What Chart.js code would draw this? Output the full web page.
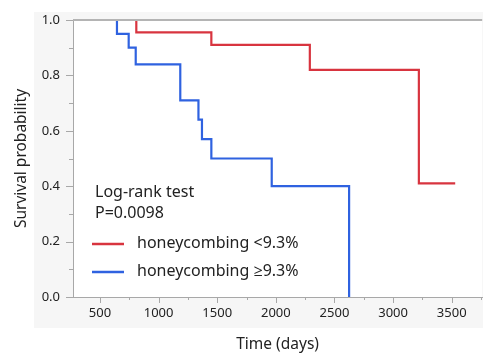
<!DOCTYPE html>
<html>
<head>
<meta charset="utf-8">
<script src="https://cdn.jsdelivr.net/npm/chart.js@4"></script>
<style>
  html, body { margin: 0; padding: 0; background: #fff; }
  #wrap { width: 483px; height: 354px; }
</style>
</head>
<body>
<div id="wrap"><canvas id="km" width="483" height="354"></canvas></div>
<script>
// Kaplan-Meier steps (days, survival)
const lowTimes  = [270, 810, 1450, 2290, 3220, 3530];
const lowSurv   = [1.0, 0.955, 0.91, 0.82, 0.41, 0.41];
const highTimes = [270, 645, 745, 805, 1185, 1340, 1370, 1450, 1965, 2625];
const highSurv  = [1.0, 0.95, 0.90, 0.84, 0.71, 0.64, 0.57, 0.50, 0.40, 0.0];

const xMajorTicks = [500, 1000, 1500, 2000, 2500, 3000, 3500];
const xMinorTicks = [750, 1250, 1750, 2250, 2750, 3250, 3750];

const seriesNames = ['honeycombing <9.3%', 'honeycombing \u22659.3%'];
const seriesColors = ['#d8343f', '#2f62e0'];
const testLines = ['Log-rank test', 'P=0.0098'];

const FONT = '"Noto Sans", "Open Sans", sans-serif';
const AXIS = '#a8a8a8';
const toPoints = (xs, ys) => xs.map((x, i) => ({ x: x, y: ys[i] }));

// grey panel behind the axes, top border, and long/short tick marks
const panel = {
    id: 'panel',
    beforeDraw(chart) {
        const { ctx, chartArea } = chart;
        ctx.save();
        ctx.fillStyle = '#f6f6f6';
        ctx.fillRect(34, 12, chart.width - 34, 316);
        ctx.fillStyle = '#fff';
        ctx.fillRect(chartArea.left, chartArea.top, chartArea.right - chartArea.left, chartArea.bottom - chartArea.top);
        ctx.restore();
    },
    afterDatasetsDraw(chart) {
        const { ctx, chartArea, scales } = chart;
        ctx.save();
        ctx.strokeStyle = '#b4b4b4';
        ctx.lineWidth = 2;
        ctx.beginPath();
        ctx.moveTo(chartArea.left, chartArea.top);
        ctx.lineTo(chartArea.right, chartArea.top);
        ctx.stroke();

        ctx.strokeStyle = AXIS;
        ctx.lineWidth = 1;
        ctx.beginPath();
        scales.x.ticks.forEach(t => {
            const px = Math.round(scales.x.getPixelForValue(t.value)) + 0.5;
            const len = xMajorTicks.includes(t.value) ? 6 : 3;
            ctx.moveTo(px, chartArea.bottom);
            ctx.lineTo(px, chartArea.bottom + len);
        });
        scales.y.ticks.forEach(t => {
            const py = Math.round(scales.y.getPixelForValue(t.value)) + 0.5;
            const len = Math.round(t.value * 10) % 2 === 0 ? 7 : 4;
            ctx.moveTo(chartArea.left, py);
            ctx.lineTo(chartArea.left - len, py);
        });
        ctx.stroke();
        ctx.restore();
    }
};

// text box with log-rank result and line legend
const legendBox = {
    id: 'legendBox',
    afterDraw(chart) {
        const ctx = chart.ctx;
        ctx.save();
        ctx.font = '16px ' + FONT;
        ctx.fillStyle = '#222';
        ctx.textBaseline = 'middle';
        ctx.textAlign = 'left';
        ctx.fillText(testLines[0], 95, 192);
        ctx.fillText(testLines[1], 95, 213);
        [244, 272].forEach((y, i) => {
            ctx.strokeStyle = seriesColors[i];
            ctx.lineWidth = 2.5;
            ctx.beginPath();
            ctx.moveTo(92, y);
            ctx.lineTo(124, y);
            ctx.stroke();
            ctx.fillText(seriesNames[i], 137, y - 1);
        });
        ctx.restore();
    }
};

new Chart(document.getElementById('km'), {
    type: 'line',
    data: {
        datasets: [
            {
                label: seriesNames[0],
                data: toPoints(lowTimes, lowSurv),
                borderColor: seriesColors[0],
                borderWidth: 2.2,
                stepped: 'before',
                pointRadius: 0,
                fill: false
            },
            {
                label: seriesNames[1],
                data: toPoints(highTimes, highSurv),
                borderColor: seriesColors[1],
                borderWidth: 2.2,
                stepped: 'before',
                pointRadius: 0,
                fill: false
            }
        ]
    },
    options: {
        responsive: false,
        animation: false,
        layout: { padding: { left: 12, right: 0, top: 20, bottom: 0 } },
        plugins: { legend: { display: false }, tooltip: { enabled: false } },
        scales: {
            x: {
                type: 'linear',
                min: 270,
                max: 3760,
                afterFit(scale) { scale.height = 57; },
                afterBuildTicks(scale) {
                    scale.ticks = xMajorTicks.concat(xMinorTicks)
                        .sort((a, b) => a - b)
                        .map(v => ({ value: v, major: xMajorTicks.includes(v) }));
                },
                border: { color: AXIS, width: 1 },
                grid: { drawOnChartArea: false, tickLength: 6, tickColor: 'rgba(0,0,0,0)' },
                ticks: {
                    autoSkip: false,
                    maxRotation: 0,
                    padding: 2,
                    color: '#222',
                    font: { family: FONT, size: 13 },
                    callback: v => (xMajorTicks.includes(v) ? String(v) : '')
                },
                title: {
                    display: true,
                    text: 'Time (days)',
                    color: '#222',
                    font: { family: FONT, size: 15.5 },
                    padding: { top: 8, bottom: 0 }
                }
            },
            y: {
                min: 0,
                max: 1,
                afterFit(scale) { scale.width = 61; },
                border: { color: AXIS, width: 1 },
                grid: { drawOnChartArea: false, tickLength: 6, tickColor: 'rgba(0,0,0,0)' },
                ticks: {
                    stepSize: 0.1,
                    autoSkip: false,
                    padding: 7,
                    color: '#222',
                    font: { family: FONT, size: 13 },
                    callback: v => (Math.round(v * 10) % 2 === 0 ? v.toFixed(1) : '')
                },
                title: {
                    display: true,
                    text: 'Survival probability',
                    color: '#222',
                    font: { family: FONT, size: 15.5 },
                    padding: { top: 0, bottom: 6 }
                }
            }
        }
    },
    plugins: [panel, legendBox]
});
</script>
</body>
</html>
